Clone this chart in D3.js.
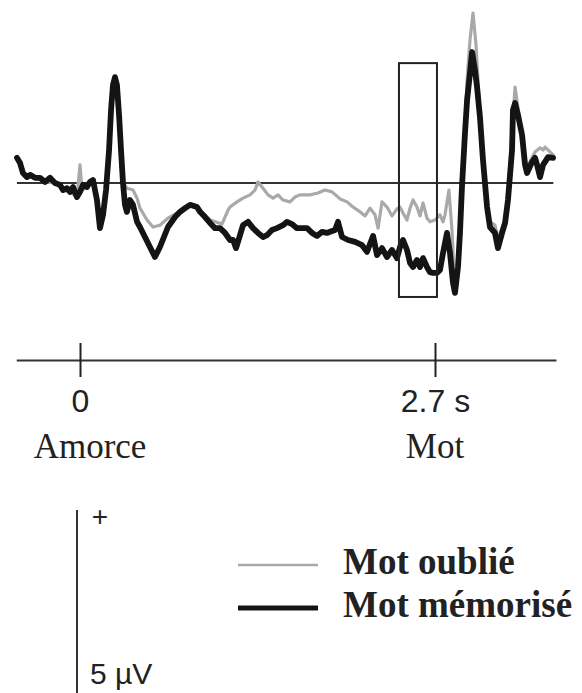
<!DOCTYPE html>
<html>
<head>
<meta charset="utf-8">
<script src="https://cdn.jsdelivr.net/npm/d3@7"></script>
<style>
  body { margin: 0; background: #fff; }
  svg { display: block; }
  .sans { font-family: 'Liberation Sans', Arial, sans-serif; fill: #222; }
  .serif { font-family: 'Liberation Serif', 'Times New Roman', serif; fill: #222; }
</style>
</head>
<body>
<svg id="chart" width="582" height="693"></svg>
<script>

// time in ms (0 = amorce, 2700 = mot), amplitude in µV
var memorise = [
  [ -479, 0.68 ], [ -456, 0.54 ], [ -434, 0.27 ], [ -403, 0.16 ], [ -380, 0.22 ], [ -342, 0.14 ],
  [ -304, 0.14 ], [ -266, 0.03 ], [ -228, 0.14 ], [ -190, 0 ], [ -152, -0.05 ], [ -129, -0.19 ],
  [ -99, -0.14 ], [ -76, -0.24 ], [ -53, -0.11 ], [ -23, -0.38 ], [ 0, -0.24 ], [ 23, -0.05 ],
  [ 53, -0.11 ], [ 76, 0.03 ], [ 99, 0.08 ], [ 129, -0.46 ], [ 152, -1.22 ], [ 175, -0.86 ],
  [ 198, -0.19 ], [ 221, 0.89 ], [ 236, 1.97 ], [ 251, 2.65 ], [ 266, 2.86 ], [ 281, 2.65 ],
  [ 297, 1.84 ], [ 312, 0.89 ], [ 327, 0 ], [ 342, -0.59 ], [ 357, -0.78 ], [ 380, -0.46 ],
  [ 403, -0.59 ], [ 434, -1.05 ], [ 456, -1.19 ], [ 494, -1.46 ], [ 532, -1.73 ], [ 570, -2.00 ],
  [ 608, -1.73 ], [ 669, -1.19 ], [ 723, -0.92 ], [ 761, -0.78 ], [ 799, -0.68 ], [ 837, -0.59 ],
  [ 890, -0.65 ], [ 913, -0.78 ], [ 951, -0.92 ], [ 989, -1.08 ], [ 1027, -1.22 ], [ 1065, -1.22 ],
  [ 1103, -1.35 ], [ 1141, -1.54 ], [ 1164, -1.54 ], [ 1187, -1.76 ], [ 1217, -1.41 ], [ 1240, -1.14 ],
  [ 1278, -1.05 ], [ 1316, -1.22 ], [ 1354, -1.35 ], [ 1392, -1.46 ], [ 1422, -1.41 ], [ 1460, -1.27 ],
  [ 1498, -1.22 ], [ 1544, -1.14 ], [ 1575, -1.05 ], [ 1612, -1.11 ], [ 1650, -1.22 ], [ 1696, -1.22 ],
  [ 1727, -1.22 ], [ 1765, -1.35 ], [ 1803, -1.43 ], [ 1841, -1.32 ], [ 1879, -1.35 ], [ 1902, -1.32 ],
  [ 1940, -1.27 ], [ 1962, -1.05 ], [ 1993, -1.46 ], [ 2039, -1.54 ], [ 2092, -1.59 ], [ 2145, -1.68 ],
  [ 2183, -1.86 ], [ 2229, -1.43 ], [ 2259, -1.95 ], [ 2297, -1.76 ], [ 2335, -2.00 ], [ 2373, -1.81 ],
  [ 2411, -2.03 ], [ 2434, -1.73 ], [ 2457, -1.54 ], [ 2487, -1.81 ], [ 2510, -2.16 ], [ 2533, -2.27 ],
  [ 2563, -2.08 ], [ 2586, -2.27 ], [ 2609, -2.03 ], [ 2639, -2.27 ], [ 2662, -2.41 ], [ 2685, -2.43 ],
  [ 2715, -2.43 ], [ 2738, -2.35 ], [ 2761, -1.89 ], [ 2791, -1.35 ], [ 2814, -1.89 ], [ 2837, -2.70 ],
  [ 2852, -2.97 ], [ 2875, -2.27 ], [ 2890, -1.35 ], [ 2905, -0.11 ], [ 2928, 1.35 ], [ 2944, 2.24 ],
  [ 2966, 2.97 ], [ 2982, 3.54 ], [ 3004, 3.05 ], [ 3020, 2.59 ], [ 3042, 1.78 ], [ 3065, 0.62 ],
  [ 3096, -0.65 ], [ 3118, -1.19 ], [ 3156, -1.35 ], [ 3179, -1.76 ], [ 3210, -1.35 ], [ 3233, -1.08 ],
  [ 3255, -0.46 ], [ 3286, 0.89 ], [ 3293, 1.97 ], [ 3309, 2.16 ], [ 3331, 1.84 ], [ 3362, 1.30 ],
  [ 3385, 0.49 ], [ 3400, 0.27 ], [ 3438, 0.57 ], [ 3461, 0.68 ], [ 3476, 0.49 ], [ 3499, 0.16 ],
  [ 3522, 0.49 ], [ 3560, 0.70 ], [ 3598, 0.68 ]
];

var oublie = [
  [ -479, 0.68 ], [ -434, 0.27 ], [ -403, 0.16 ], [ -342, 0.14 ], [ -266, 0.03 ], [ -190, 0 ],
  [ -129, -0.19 ], [ -76, -0.24 ], [ -23, -0.38 ], [ 0, 0.49 ], [ 15, -0.19 ], [ 53, -0.11 ],
  [ 99, 0.08 ], [ 129, -0.46 ], [ 152, -1.22 ], [ 175, -0.86 ], [ 198, -0.19 ], [ 221, 0.89 ],
  [ 236, 1.97 ], [ 251, 2.65 ], [ 266, 2.86 ], [ 281, 2.65 ], [ 297, 1.84 ], [ 312, 0.89 ],
  [ 327, 0 ], [ 357, -0.14 ], [ 403, -0.19 ], [ 434, -0.41 ], [ 456, -0.68 ], [ 510, -1.00 ],
  [ 555, -1.19 ], [ 608, -1.14 ], [ 669, -0.95 ], [ 723, -0.84 ], [ 761, -0.76 ], [ 837, -0.57 ],
  [ 913, -0.73 ], [ 989, -1.00 ], [ 1080, -1.11 ], [ 1126, -0.73 ], [ 1141, -0.65 ], [ 1194, -0.51 ],
  [ 1240, -0.41 ], [ 1293, -0.32 ], [ 1331, -0.19 ], [ 1354, 0.03 ], [ 1392, -0.14 ], [ 1430, -0.32 ],
  [ 1468, -0.41 ], [ 1506, -0.32 ], [ 1544, -0.46 ], [ 1597, -0.51 ], [ 1635, -0.38 ], [ 1673, -0.32 ],
  [ 1749, -0.32 ], [ 1810, -0.27 ], [ 1863, -0.19 ], [ 1917, -0.24 ], [ 1978, -0.43 ], [ 2031, -0.51 ],
  [ 2076, -0.65 ], [ 2130, -0.78 ], [ 2168, -0.89 ], [ 2206, -0.68 ], [ 2244, -0.86 ], [ 2267, -1.22 ],
  [ 2297, -0.51 ], [ 2335, -0.65 ], [ 2373, -0.89 ], [ 2411, -0.70 ], [ 2434, -0.65 ], [ 2457, -0.81 ],
  [ 2487, -1.00 ], [ 2510, -0.68 ], [ 2533, -0.46 ], [ 2563, -0.65 ], [ 2586, -0.89 ], [ 2609, -0.54 ],
  [ 2639, -0.95 ], [ 2662, -1.05 ], [ 2700, -1.00 ], [ 2738, -0.86 ], [ 2761, -1.05 ], [ 2776, -0.86 ],
  [ 2806, -0.19 ], [ 2829, -1.27 ], [ 2852, -2.97 ], [ 2875, -2.27 ], [ 2890, -1.35 ], [ 2905, -0.11 ],
  [ 2928, 1.35 ], [ 2944, 2.78 ], [ 2966, 3.86 ], [ 2989, 4.59 ], [ 3012, 3.73 ], [ 3027, 2.78 ],
  [ 3042, 1.78 ], [ 3065, 0.62 ], [ 3096, -0.59 ], [ 3118, -1.05 ], [ 3156, -1.14 ], [ 3179, -1.49 ],
  [ 3210, -1.22 ], [ 3233, -0.95 ], [ 3255, -0.32 ], [ 3286, 1.43 ], [ 3309, 2.59 ], [ 3331, 2.03 ],
  [ 3362, 1.30 ], [ 3385, 0.62 ], [ 3400, 0.41 ], [ 3438, 0.68 ], [ 3461, 0.84 ], [ 3499, 0.95 ],
  [ 3522, 0.89 ], [ 3537, 0.97 ], [ 3575, 0.84 ], [ 3598, 0.76 ]
];

var timeTicks = [ 0, 2700 ],
  tickLabels = [ '0', '2.7 s' ],
  eventLabels = [ 'Amorce', 'Mot' ],
  timeExtent = [ -485, 3620 ],
  windowTime = [ 2426, 2715 ],
  windowAmp = [ -3.08, 3.24 ],
  scaleBarAmp = 5,
  legendKeys = [ 'Mot oublié', 'Mot mémorisé' ];

var svg = d3.select( '#chart' );

var x = d3.scaleLinear()
  .domain( [ 0, 2700 ] )
  .range( [ 80, 435 ] );

var y = d3.scaleLinear()
  .domain( [ 0, 5 ] )
  .range( [ 183, -2 ] );

var z = d3.scaleOrdinal()
  .domain( legendKeys )
  .range( [ '#a9a9a9', '#141414' ] );

var w = d3.scaleOrdinal()
  .domain( legendKeys )
  .range( [ 3.2, 5.8 ] );

var line = d3.line()
  .x( d => x( d[ 0 ] ) )
  .y( d => y( d[ 1 ] ) );

/* Baseline */

svg.append( 'line' )
  .attr( 'x1', x( timeExtent[ 0 ] + 5 ) )
  .attr( 'x2', x( 3600 ) )
  .attr( 'y1', y( 0 ) )
  .attr( 'y2', y( 0 ) )
  .style( 'stroke', '#333' )
  .style( 'stroke-width', 2 );

/* Waves */

var series = [ { id: legendKeys[ 0 ], values: oublie }, { id: legendKeys[ 1 ], values: memorise } ];

svg.selectAll( '.wave' )
  .data( series )
  .enter().append( 'path' )
    .attr( 'class', 'wave' )
    .attr( 'd', d => line( d.values ) )
    .style( 'fill', 'none' )
    .style( 'stroke', d => z( d.id ) )
    .style( 'stroke-width', d => w( d.id ) )
    .style( 'stroke-linejoin', 'round' )
    .style( 'stroke-linecap', 'round' );

/* Window */

svg.append( 'rect' )
  .attr( 'x', x( windowTime[ 0 ] ) )
  .attr( 'y', y( windowAmp[ 1 ] ) )
  .attr( 'width', x( windowTime[ 1 ] ) - x( windowTime[ 0 ] ) )
  .attr( 'height', y( windowAmp[ 0 ] ) - y( windowAmp[ 1 ] ) )
  .style( 'fill', 'none' )
  .style( 'stroke', '#222' )
  .style( 'stroke-width', 2 );

/* Time axis */

var xAxisScale = x.copy()
  .domain( timeExtent )
  .range( timeExtent.map( x ) );

var axis = svg.append( 'g' )
  .attr( 'class', 'x-axis' )
  .attr( 'transform', 'translate(0,360)' )
  .call( d3.axisBottom( xAxisScale ).tickValues( timeTicks ).tickSizeOuter( 0 ).tickSizeInner( 17 ).tickFormat( ( d, i ) => tickLabels[ i ] ) );

axis.select( '.domain' ).style( 'stroke', '#333' ).style( 'stroke-width', 2 );
axis.selectAll( '.tick line' )
  .attr( 'y1', -17 )
  .style( 'stroke', '#222' )
  .style( 'stroke-width', 2 );
axis.selectAll( '.tick text' )
  .attr( 'class', 'sans' )
  .attr( 'y', 52 )
  .attr( 'dy', 0 )
  .style( 'font-size', '32px' );

svg.selectAll( '.event' )
  .data( timeTicks )
  .enter().append( 'text' )
    .attr( 'class', 'serif event' )
    .attr( 'x', ( d, i ) => x( d ) + ( i === 0 ? 10 : 0 ) )
    .attr( 'y', 458 )
    .attr( 'text-anchor', 'middle' )
    .style( 'font-size', '35px' )
    .text( ( d, i ) => eventLabels[ i ] );

/* Scale bar */

var barTop = 510;

svg.append( 'line' )
  .attr( 'x1', 77 )
  .attr( 'x2', 77 )
  .attr( 'y1', barTop )
  .attr( 'y2', barTop + y( 0 ) - y( scaleBarAmp ) )
  .style( 'stroke', '#333' )
  .style( 'stroke-width', 2 );

svg.append( 'text' )
  .attr( 'class', 'sans' )
  .attr( 'x', 100 )
  .attr( 'y', 526 )
  .attr( 'text-anchor', 'middle' )
  .style( 'font-size', '28px' )
  .text( '+' );

svg.append( 'text' )
  .attr( 'class', 'sans' )
  .attr( 'x', 90 )
  .attr( 'y', 684 )
  .style( 'font-size', '30px' )
  .text( scaleBarAmp + ' µV' );

/* Legend */

var legend = svg.selectAll( '.legend' )
  .data( legendKeys )
  .enter().append( 'g' )
    .attr( 'class', 'legend' )
    .attr( 'transform', ( d, i ) => 'translate(0,' + ( 565 + i * 43 ) + ')' );

legend.append( 'line' )
  .attr( 'x1', 238 )
  .attr( 'x2', 318 )
  .style( 'stroke', d => z( d ) )
  .style( 'stroke-width', d => w( d ) - 0.8 );

legend.append( 'text' )
  .attr( 'class', 'serif' )
  .attr( 'x', 343 )
  .attr( 'y', 9 )
  .style( 'font-size', '37px' )
  .style( 'font-weight', 'bold' )
  .text( d => d );

</script>
</body>
</html>
